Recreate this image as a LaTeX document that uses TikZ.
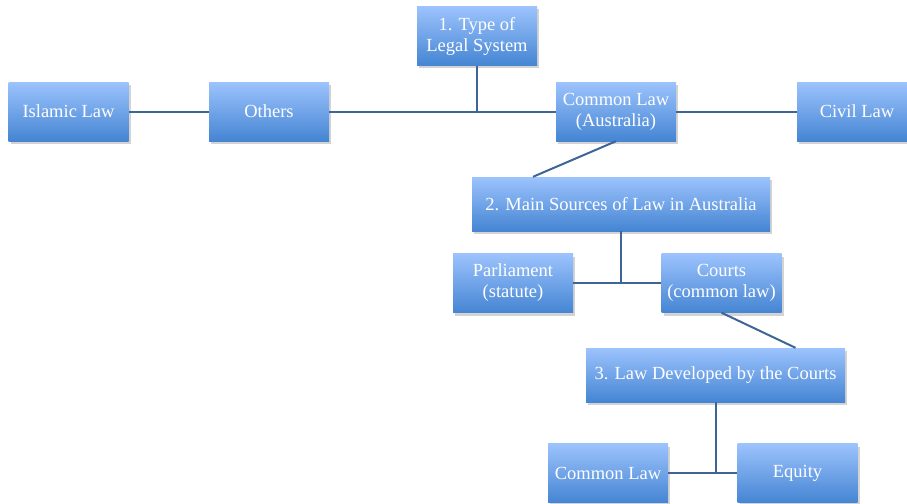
\documentclass[tikz,border=0pt]{standalone}
\usepackage{fontspec}
\setmainfont{Liberation Serif}
\usepackage{tikz}
\usetikzlibrary{shadows}
\usetikzlibrary{positioning}

\definecolor{boxtop}{HTML}{9CC3FD}
\definecolor{boxbot}{HTML}{4585D3}
\definecolor{wire}{HTML}{3D6597}

\tikzset{
  lbox/.style={draw=none, rectangle, top color = boxtop, bottom color = boxbot,
    text = white, align = center, font = \fontsize{18.5}{21}\selectfont,
    minimum width = 120pt, minimum height = 59pt, inner sep = 2pt,
    drop shadow = {shadow xshift = 2pt, shadow yshift = -3pt, opacity = 0.35}},
  wbox/.style={lbox, minimum height = 54pt},
  link/.style={draw = wire, line width = 2pt}
}

\begin{document}
\begin{tikzpicture}[x=1pt, y=-1pt]
\useasboundingbox (0,0) rectangle (907,503);
% level 1
\node[lbox] (type) at (477,36) {1. Type of\\Legal System};
\node[lbox] (islam) at (68.5,111.5) {Islamic Law};
\node[lbox] (other) at (269,111.5) {Others};
\node[lbox] (cl) at (616,111.5) {Common Law\\(Australia)};
\node[lbox] (civil) at (857,111.5) {Civil Law};
% level 2
\node[wbox, minimum width = 298pt] (src) at (621,204) {2. Main Sources of Law in Australia};
\node[lbox] (parl) at (513,283) {Parliament\\(statute)};
\node[lbox] (court) at (721.5,283) {Courts\\(common law)};
% level 3
\node[wbox, minimum width = 259pt] (dev) at (715.5,375) {3. Law Developed by the Courts};
\node[lbox] (cl2) at (608,473) {Common Law};
\node[lbox] (eq) at (797.5,473) {Equity};

\coordinate (j1) at (type.south |- other.east);
\coordinate (j2) at (src.south |- parl.east);
\coordinate (j3) at (dev.south |- cl2.east);
\draw[link] (islam) -- (other);
\draw[link] (other) -- (cl);
\draw[link] (cl) -- (civil);
\draw[link] (type) -- (j1);
\draw[link] (cl.south) -- ([xshift=-88pt]src.north);
\draw[link] (parl) -- (court);
\draw[link] (src) -- (j2);
\draw[link] (court.south) -- ([xshift=80pt]dev.north);
\draw[link] (cl2) -- (eq);
\draw[link] (dev) -- (j3);
\end{tikzpicture}
\end{document}
